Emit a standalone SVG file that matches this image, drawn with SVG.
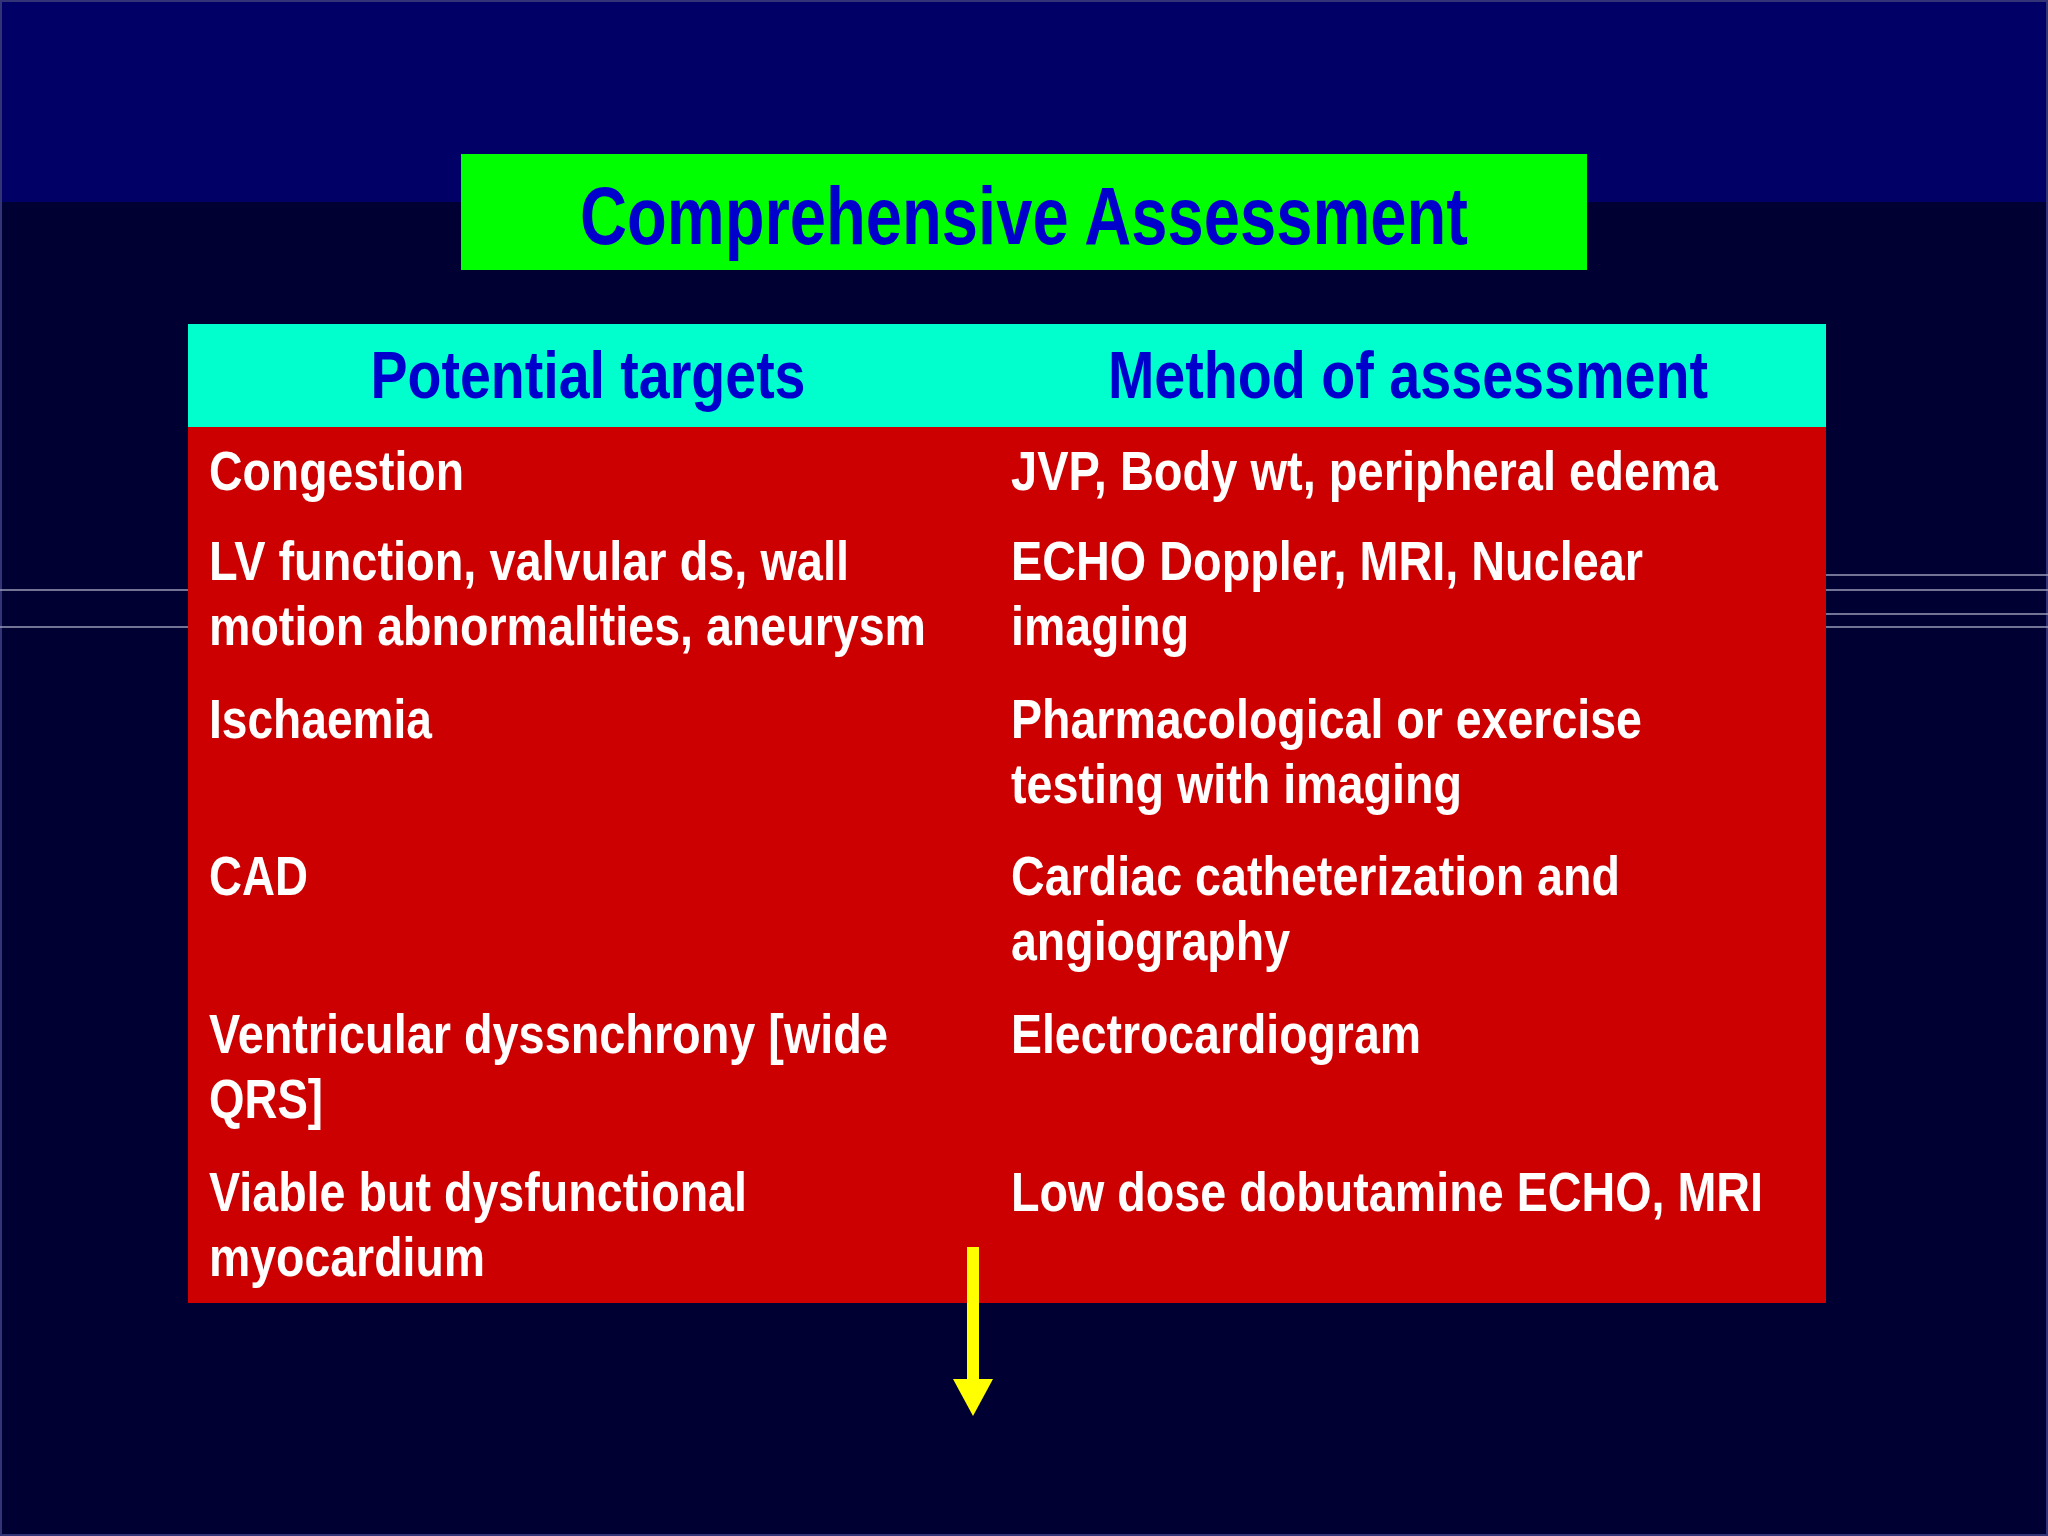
<svg xmlns="http://www.w3.org/2000/svg" width="2048" height="1536" viewBox="0 0 2048 1536">
<style>
.w{font-family:"Liberation Sans",Arial,sans-serif;font-weight:bold;font-size:55px;fill:#fff}
.h{font-family:"Liberation Sans",Arial,sans-serif;font-weight:bold;font-size:67px;fill:#0000cc}
.t{font-family:"Liberation Sans",Arial,sans-serif;font-weight:bold;font-size:82px;fill:#0000cc}
.ln{stroke:#9a9ab8;stroke-width:1.5}
</style>
<rect width="2048" height="1536" fill="#000033"/>
<rect width="2048" height="202" fill="#000066"/>
<rect x="1" y="1" width="2046" height="1534" fill="none" stroke="#333377" stroke-width="2"/>
<g id="bglines">
<line class="ln" x1="0" y1="590" x2="188" y2="590"/><line class="ln" x1="0" y1="627" x2="188" y2="627"/>
<line class="ln" x1="1826" y1="575" x2="2048" y2="575"/><line class="ln" x1="1826" y1="590" x2="2048" y2="590"/>
<line class="ln" x1="1826" y1="614" x2="2048" y2="614"/><line class="ln" x1="1826" y1="627" x2="2048" y2="627"/>
</g>
<g id="title">
<rect x="461" y="154" width="1126" height="116" fill="#00ff00"/>
<text class="t" x="1024" y="244" text-anchor="middle" textLength="888" lengthAdjust="spacingAndGlyphs">Comprehensive Assessment</text>
</g>
<g id="header">
<rect x="188" y="324" width="1638" height="103" fill="#00ffcc"/>
<text class="h" x="588" y="398" text-anchor="middle" textLength="435" lengthAdjust="spacingAndGlyphs">Potential targets</text>
<text class="h" x="1408" y="398" text-anchor="middle" textLength="600" lengthAdjust="spacingAndGlyphs">Method of assessment</text>
</g>
<g id="table">
<rect x="188" y="427" width="1638" height="876" fill="#cc0000"/>
<text class="w" x="209" y="490" textLength="255" lengthAdjust="spacingAndGlyphs">Congestion</text>
<text class="w" x="209" y="580" textLength="640" lengthAdjust="spacingAndGlyphs">LV function, valvular ds, wall</text>
<text class="w" x="209" y="645" textLength="717" lengthAdjust="spacingAndGlyphs">motion abnormalities, aneurysm</text>
<text class="w" x="209" y="738" textLength="223" lengthAdjust="spacingAndGlyphs">Ischaemia</text>
<text class="w" x="209" y="895" textLength="99" lengthAdjust="spacingAndGlyphs">CAD</text>
<text class="w" x="209" y="1053" textLength="679" lengthAdjust="spacingAndGlyphs">Ventricular dyssnchrony [wide</text>
<text class="w" x="209" y="1118" textLength="114" lengthAdjust="spacingAndGlyphs">QRS]</text>
<text class="w" x="209" y="1211" textLength="538" lengthAdjust="spacingAndGlyphs">Viable but dysfunctional</text>
<text class="w" x="209" y="1276" textLength="276" lengthAdjust="spacingAndGlyphs">myocardium</text>
<text class="w" x="1011" y="490" textLength="707" lengthAdjust="spacingAndGlyphs">JVP, Body wt, peripheral edema</text>
<text class="w" x="1011" y="580" textLength="632" lengthAdjust="spacingAndGlyphs">ECHO Doppler, MRI, Nuclear</text>
<text class="w" x="1011" y="645" textLength="178" lengthAdjust="spacingAndGlyphs">imaging</text>
<text class="w" x="1011" y="738" textLength="631" lengthAdjust="spacingAndGlyphs">Pharmacological or exercise</text>
<text class="w" x="1011" y="803" textLength="451" lengthAdjust="spacingAndGlyphs">testing with imaging</text>
<text class="w" x="1011" y="895" textLength="609" lengthAdjust="spacingAndGlyphs">Cardiac catheterization and</text>
<text class="w" x="1011" y="960" textLength="279" lengthAdjust="spacingAndGlyphs">angiography</text>
<text class="w" x="1011" y="1053" textLength="410" lengthAdjust="spacingAndGlyphs">Electrocardiogram</text>
<text class="w" x="1011" y="1211" textLength="752" lengthAdjust="spacingAndGlyphs">Low dose dobutamine ECHO, MRI</text>
</g>
<g id="connectors">
<rect x="967" y="1247" width="12" height="134" fill="#ffff00"/>
<polygon points="953,1379 993,1379 973,1416" fill="#ffff00"/>
</g>
</svg>
